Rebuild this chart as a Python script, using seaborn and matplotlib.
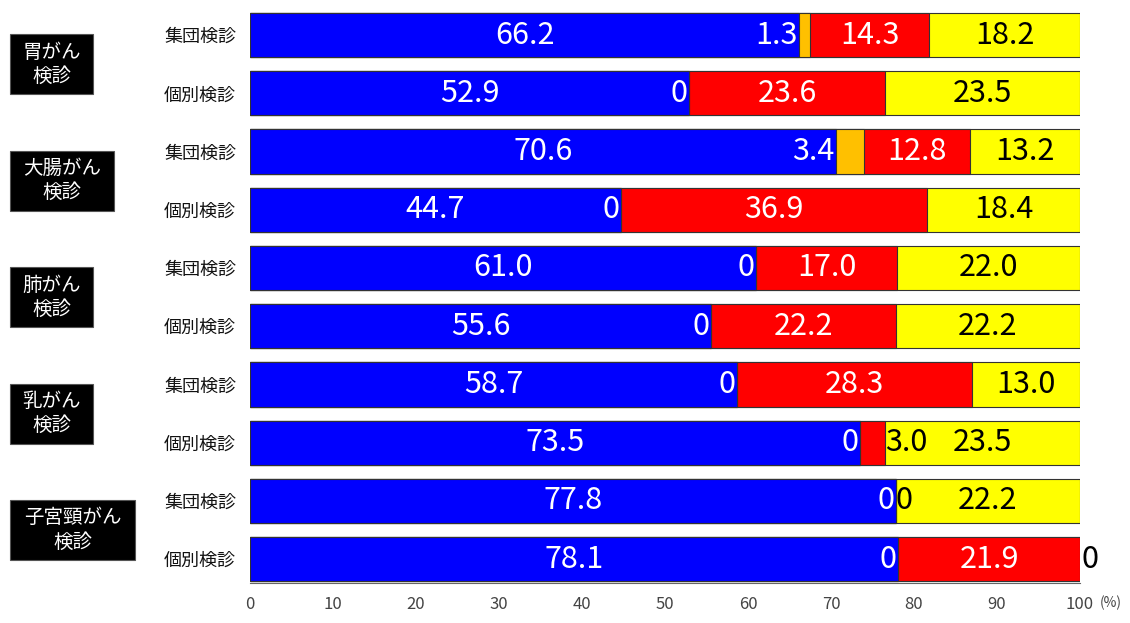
import numpy as np
import pandas as pd
import matplotlib.pyplot as plt
import matplotlib.patches as mpatches
import seaborn as sns

# データ
groups = ['胃がん\n検診', '大腸がん\n検診', '肺がん\n検診', '乳がん\n検診', '子宮頸がん\n検診']
sub_labels = ['集団検診', '個別検診'] * 5
blue = [66.2, 52.9, 70.6, 44.7, 61.0, 55.6, 58.7, 73.5, 77.8, 78.1]
orange = [1.3, 0, 3.4, 0, 0, 0, 0, 0, 0, 0]
red = [14.3, 23.6, 12.8, 36.9, 17.0, 22.2, 28.3, 3.0, 0, 21.9]
yellow = [18.2, 23.5, 13.2, 18.4, 22.0, 22.2, 13.0, 23.5, 22.2, 0]

colors = {'blue': '#0000FF', 'orange': '#FFC000', 'red': '#FF0000', 'yellow': '#FFFF00'}

sns.set_style('white')
plt.rcParams['font.family'] = ['Noto Sans CJK JP', 'DejaVu Sans']

df = pd.DataFrame({'row': [f'r{i}' for i in range(10)], 'blue': blue, 'orange': orange,
                   'red': red, 'yellow': yellow})
df['c_blue'] = df['blue']
df['c_orange'] = df['c_blue'] + df['orange']
df['c_red'] = df['c_orange'] + df['red']
df['c_yellow'] = df['c_red'] + df['yellow']

fig = plt.figure(figsize=(11.3, 6.23), dpi=100)
ax = fig.add_axes([0.2212, 0.0642, 0.7346, 0.9262])

# 累積値を後ろから重ねて積み上げ棒にする
for key in ['yellow', 'red', 'orange', 'blue']:
    sns.barplot(data=df, x='c_' + key, y='row', color=colors[key], orient='h',
                width=0.76, saturation=1, edgecolor='#333333', linewidth=0.8, ax=ax)

ax.set_xlim(0, 100)
ax.set_ylim(9.41, -0.5)
ax.set_xlabel('')
ax.set_ylabel('')
ax.set_xticks(range(0, 101, 10))
ax.tick_params(axis='x', direction='inout', length=8, width=1, colors='#555555',
               labelsize=12, labelcolor='#444444', pad=5)
ax.set_yticks(range(10))
ax.set_yticklabels(sub_labels, fontsize=13, color='#111111')
ax.tick_params(axis='y', length=0, pad=10)
for s in ['left', 'top', 'right']:
    ax.spines[s].set_visible(False)
ax.spines['bottom'].set_color('#666666')
ax.annotate('(%)', xy=(100, 9.41), xycoords='data', xytext=(14, -9),
            textcoords='offset points', fontsize=10, color='#444444',
            ha='left', va='top')

# 値ラベル
fs = 22
for i, r in df.iterrows():
    ax.text(r['blue'] / 2, i, f"{r['blue']:.1f}", color='white', fontsize=fs,
            ha='center', va='center')
    o = r['orange']
    ax.text(r['c_blue'] - 0.2, i, f'{o:.1f}' if o > 0 else '0', color='white',
            fontsize=fs, ha='right', va='center')
    rd = r['red']
    if rd >= 5:
        ax.text(r['c_orange'] + rd / 2, i, f'{rd:.1f}', color='white', fontsize=fs,
                ha='center', va='center')
    else:
        ax.text(r['c_red'], i, f'{rd:.1f}' if rd > 0 else '0', color='black',
                fontsize=fs, ha='left', va='center')
    y = r['yellow']
    if y >= 5:
        ax.text(r['c_red'] + y / 2, i, f'{y:.1f}', color='black', fontsize=fs,
                ha='center', va='center')
    else:
        ax.text(r['c_yellow'] + 0.2, i, '0', color='black', fontsize=fs,
                ha='left', va='center')

# グループラベル（黒い箱）
W, H = 1130, 623
for g, name in enumerate(groups):
    yc = ax.transData.transform((0, 2 * g + 0.5))[1]
    n = len(name.split('\n')[0])
    w = 20 + 21 * n
    h = 60
    x0 = 10
    rect = mpatches.Rectangle((x0 / W, (yc - h / 2) / H), w / W, h / H,
                              transform=fig.transFigure, facecolor='black',
                              edgecolor='#555555', linewidth=0.8)
    fig.add_artist(rect)
    fig.text((x0 + w / 2) / W, yc / H, name, color='white', fontsize=14,
             ha='center', va='center', multialignment='center', linespacing=1.2)

fig.savefig('out.png', dpi=100, facecolor='white')
